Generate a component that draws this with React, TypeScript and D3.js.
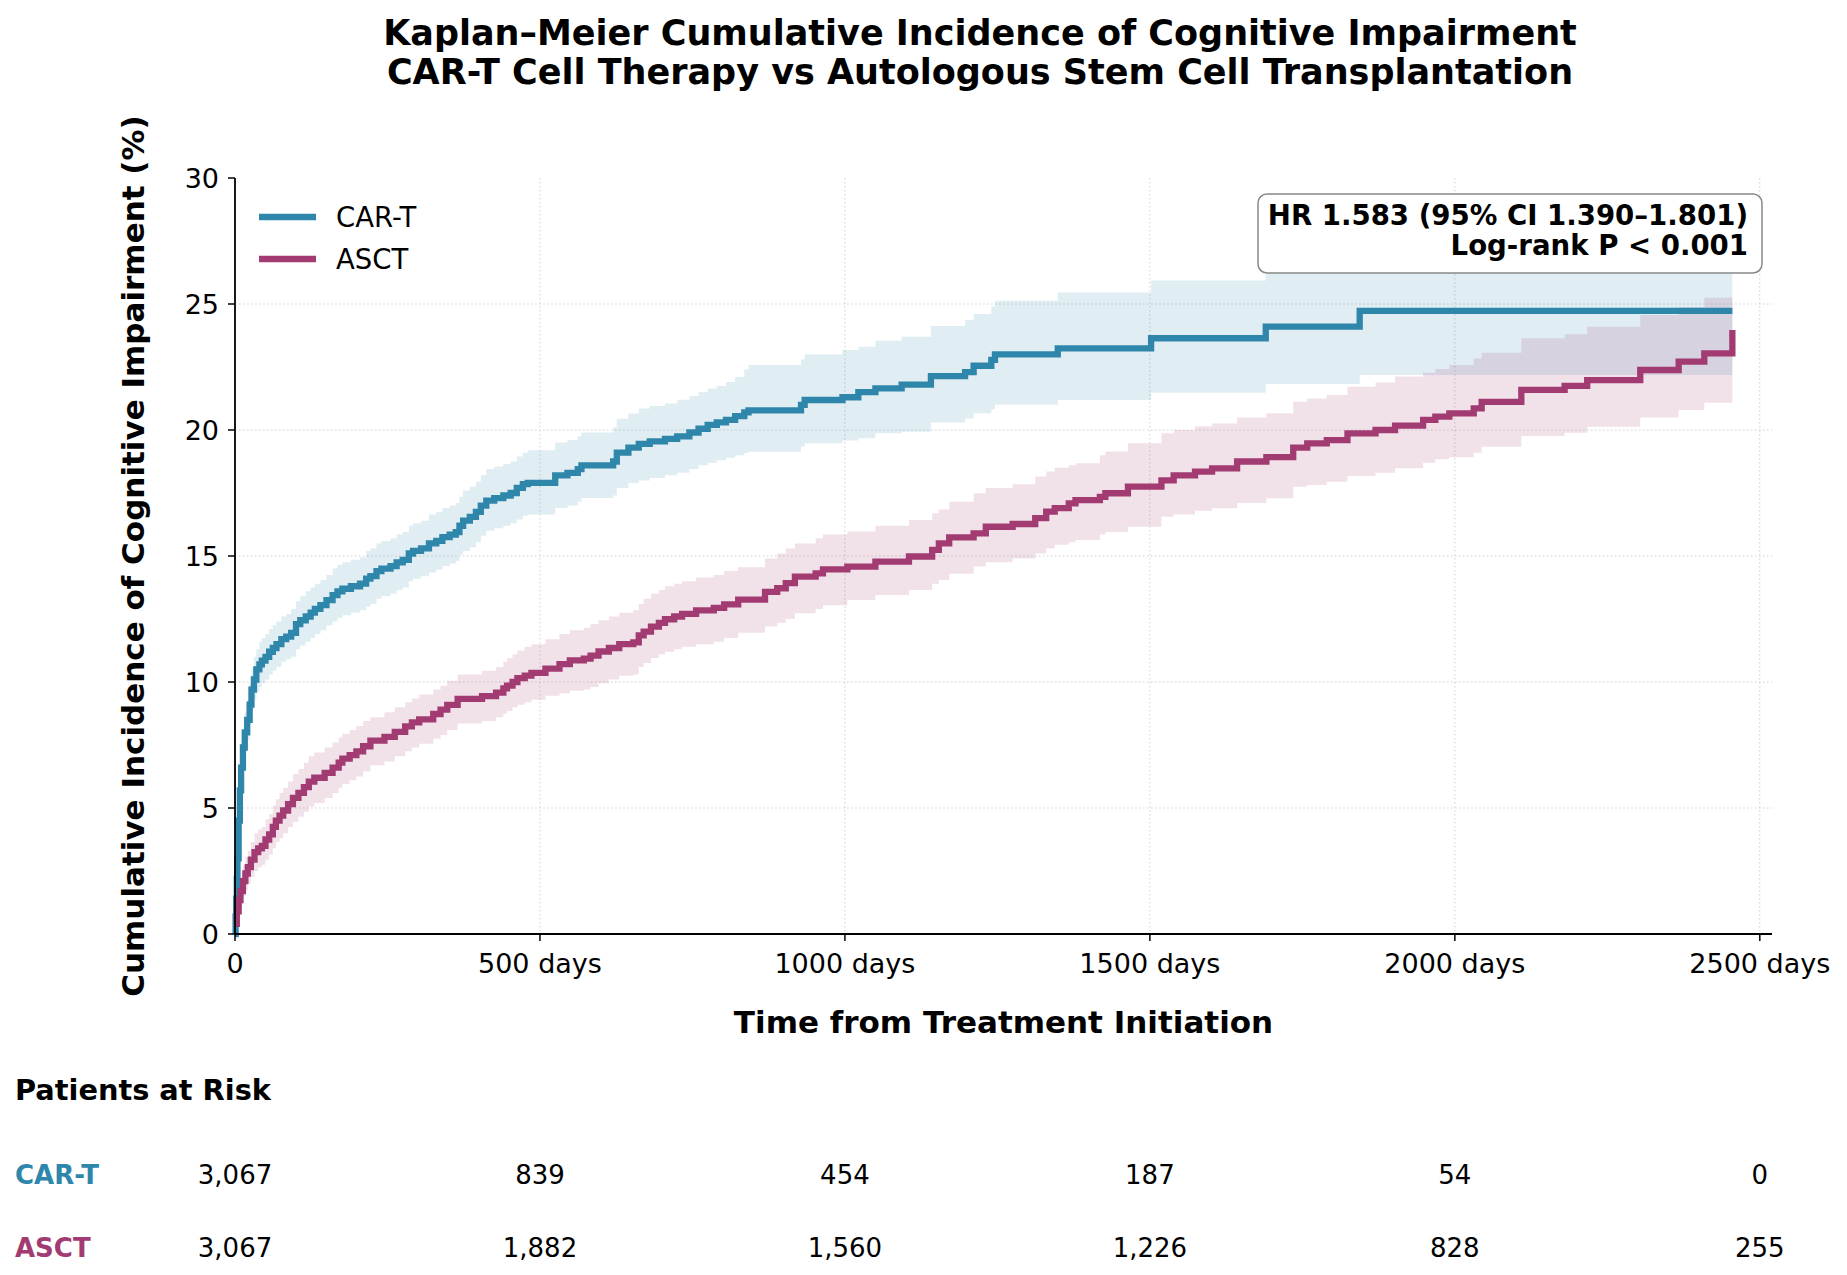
import React from "react";
import * as d3 from "d3";

// ---------- DATA ----------
const xTickValues = [0, 500, 1000, 1500, 2000, 2500];
const xTickLabels = ["0", "500 days", "1000 days", "1500 days", "2000 days", "2500 days"];
const yTickValues = [0, 5, 10, 15, 20, 25, 30];

const seriesNames = ["CAR-T", "ASCT"];
const seriesColors = ["#2E86AB", "#A23B72"];

const riskCarT = ["3,067", "839", "454", "187", "54", "0"];
const riskAsct = ["3,067", "1,882", "1,560", "1,226", "828", "255"];

const annotationLines = ["HR 1.583 (95% CI 1.390\u20131.801)", "Log-rank P < 0.001"];

const carTDays = [0, 1, 2, 3, 4, 6, 8, 10, 13, 16, 20, 24, 27, 31, 35, 40, 44, 50, 56, 62, 68, 76, 84, 92, 100, 107, 116, 124, 131, 140, 150, 160, 168, 176, 190, 205, 215, 222, 232, 240, 255, 265, 275, 285, 292, 305, 318, 330, 340, 352, 362, 368, 374, 385, 395, 403, 412, 425, 440, 452, 462, 472, 480, 525, 545, 562, 568, 620, 626, 645, 662, 680, 705, 725, 745, 760, 775, 790, 805, 820, 835, 842, 928, 934, 996, 1022, 1050, 1093, 1141, 1197, 1211, 1240, 1246, 1349, 1502, 1690, 1844, 2455];
const carTIncidence = [0, 0.7, 1.4, 2.2, 3.0, 4.5, 5.7, 6.6, 7.4, 8.0, 8.5, 9.1, 9.7, 10.1, 10.5, 10.7, 10.85, 11.0, 11.2, 11.35, 11.5, 11.7, 11.8, 11.95, 12.3, 12.45, 12.6, 12.75, 12.9, 13.05, 13.25, 13.45, 13.6, 13.7, 13.8, 13.9, 14.1, 14.2, 14.4, 14.5, 14.6, 14.75, 14.85, 15.1, 15.2, 15.3, 15.5, 15.6, 15.75, 15.85, 15.95, 16.2, 16.4, 16.55, 16.75, 17.0, 17.2, 17.3, 17.4, 17.5, 17.7, 17.85, 17.9, 18.2, 18.3, 18.45, 18.6, 18.75, 19.1, 19.3, 19.45, 19.55, 19.65, 19.75, 19.9, 20.05, 20.2, 20.3, 20.4, 20.55, 20.7, 20.78, 21.0, 21.19, 21.3, 21.5, 21.65, 21.8, 22.14, 22.3, 22.55, 22.78, 23.0, 23.24, 23.64, 24.1, 24.73, 24.73];
const carTLower = [0, 0.4, 1.0, 1.7, 2.5, 3.9, 5.1, 5.9, 6.7, 7.3, 7.7, 8.3, 8.9, 9.3, 9.6, 9.8, 9.95, 10.1, 10.3, 10.45, 10.6, 10.8, 10.9, 11.0, 11.3, 11.45, 11.6, 11.75, 11.9, 12.05, 12.25, 12.4, 12.55, 12.65, 12.75, 12.85, 13.0, 13.1, 13.3, 13.4, 13.5, 13.65, 13.75, 14.0, 14.1, 14.2, 14.35, 14.45, 14.6, 14.7, 14.8, 15.05, 15.2, 15.35, 15.55, 15.8, 16.0, 16.1, 16.2, 16.3, 16.45, 16.6, 16.65, 16.9, 17.0, 17.15, 17.3, 17.4, 17.7, 17.9, 18.0, 18.1, 18.2, 18.3, 18.45, 18.6, 18.7, 18.8, 18.9, 19.0, 19.1, 19.14, 19.35, 19.47, 19.58, 19.67, 19.87, 19.93, 20.3, 20.46, 20.66, 20.82, 21.0, 21.19, 21.48, 21.83, 22.18, 22.18];
const carTUpper = [0, 1.0, 1.8, 2.7, 3.5, 5.1, 6.3, 7.3, 8.1, 8.8, 9.3, 9.9, 10.5, 11.0, 11.3, 11.6, 11.75, 11.9, 12.1, 12.25, 12.4, 12.6, 12.7, 12.9, 13.2, 13.4, 13.6, 13.75, 13.9, 14.05, 14.25, 14.5, 14.65, 14.75, 14.85, 14.95, 15.2, 15.3, 15.5, 15.6, 15.7, 15.85, 15.95, 16.2, 16.3, 16.4, 16.65, 16.75, 16.9, 17.0, 17.1, 17.35, 17.6, 17.75, 17.95, 18.2, 18.45, 18.55, 18.65, 18.75, 18.95, 19.1, 19.2, 19.5, 19.6, 19.75, 19.9, 20.1, 20.45, 20.65, 20.85, 20.95, 21.05, 21.2, 21.35, 21.5, 21.65, 21.75, 21.9, 22.1, 22.4, 22.58, 22.8, 23.0, 23.17, 23.3, 23.54, 23.7, 24.13, 24.37, 24.6, 24.9, 25.13, 25.46, 25.93, 26.4, 27.2, 27.2];

const asctDays = [0, 3, 6, 9, 13, 17, 21, 26, 32, 38, 44, 50, 56, 62, 67, 73, 79, 87, 95, 104, 113, 121, 130, 147, 160, 170, 176, 188, 199, 210, 222, 245, 262, 279, 290, 302, 325, 337, 348, 365, 405, 428, 440, 446, 455, 463, 475, 486, 509, 532, 549, 572, 583, 596, 613, 630, 653, 662, 670, 682, 695, 705, 720, 733, 756, 785, 802, 825, 869, 889, 903, 918, 952, 964, 1004, 1050, 1105, 1143, 1154, 1171, 1211, 1231, 1275, 1312, 1330, 1344, 1367, 1378, 1418, 1427, 1464, 1519, 1539, 1574, 1602, 1643, 1691, 1735, 1758, 1790, 1824, 1870, 1902, 1948, 1968, 1991, 2031, 2044, 2109, 2180, 2217, 2304, 2367, 2409, 2455];
const asctIncidence = [0.4, 0.9, 1.35, 1.7, 2.1, 2.4, 2.65, 2.95, 3.25, 3.4, 3.5, 3.75, 3.95, 4.25, 4.5, 4.7, 4.9, 5.15, 5.4, 5.6, 5.83, 6.05, 6.2, 6.39, 6.6, 6.8, 6.96, 7.1, 7.25, 7.45, 7.67, 7.82, 8.02, 8.24, 8.4, 8.52, 8.73, 8.9, 9.09, 9.33, 9.44, 9.58, 9.75, 9.86, 10.0, 10.15, 10.25, 10.36, 10.53, 10.71, 10.86, 10.93, 11.05, 11.21, 11.35, 11.5, 11.57, 11.85, 12.0, 12.2, 12.35, 12.49, 12.6, 12.7, 12.84, 12.94, 13.08, 13.27, 13.58, 13.72, 13.92, 14.18, 14.31, 14.47, 14.58, 14.78, 14.98, 15.24, 15.5, 15.74, 15.9, 16.16, 16.27, 16.5, 16.76, 16.9, 17.09, 17.22, 17.35, 17.49, 17.75, 18.0, 18.2, 18.35, 18.48, 18.75, 18.92, 19.3, 19.47, 19.6, 19.87, 20.0, 20.17, 20.4, 20.53, 20.66, 20.86, 21.12, 21.59, 21.75, 21.98, 22.38, 22.71, 23.04, 23.97];
const asctLower = [0.15, 0.5, 0.85, 1.15, 1.5, 1.75, 2.0, 2.25, 2.5, 2.65, 2.75, 2.95, 3.15, 3.4, 3.65, 3.8, 4.0, 4.25, 4.45, 4.65, 4.85, 5.05, 5.2, 5.4, 5.6, 5.8, 5.95, 6.1, 6.25, 6.45, 6.7, 6.85, 7.05, 7.25, 7.4, 7.55, 7.75, 7.9, 8.1, 8.35, 8.45, 8.6, 8.75, 8.85, 9.0, 9.1, 9.2, 9.3, 9.45, 9.55, 9.65, 9.7, 9.8, 9.95, 10.1, 10.25, 10.3, 10.6, 10.75, 10.95, 11.1, 11.2, 11.3, 11.4, 11.5, 11.6, 11.75, 11.95, 12.2, 12.35, 12.5, 12.73, 12.9, 13.05, 13.25, 13.45, 13.65, 13.9, 14.05, 14.3, 14.58, 14.75, 14.9, 15.1, 15.3, 15.45, 15.55, 15.63, 15.85, 15.95, 16.16, 16.56, 16.65, 16.8, 16.89, 17.1, 17.29, 17.75, 17.82, 17.95, 18.17, 18.3, 18.48, 18.7, 18.84, 18.92, 19.1, 19.34, 19.76, 19.89, 20.13, 20.5, 20.79, 21.08, 21.08];
const asctUpper = [0.65, 1.3, 1.85, 2.25, 2.7, 3.05, 3.3, 3.65, 4.0, 4.15, 4.25, 4.55, 4.75, 5.1, 5.35, 5.6, 5.8, 6.05, 6.35, 6.55, 6.8, 7.05, 7.2, 7.4, 7.6, 7.8, 7.95, 8.1, 8.25, 8.45, 8.6, 8.8, 9.0, 9.2, 9.35, 9.5, 9.7, 9.85, 10.05, 10.3, 10.45, 10.6, 10.8, 10.95, 11.1, 11.25, 11.4, 11.5, 11.7, 11.9, 12.05, 12.15, 12.3, 12.45, 12.6, 12.75, 12.85, 13.1, 13.3, 13.5, 13.65, 13.8, 13.9, 14.0, 14.15, 14.25, 14.4, 14.55, 14.9, 15.1, 15.3, 15.5, 15.7, 15.85, 15.97, 16.2, 16.43, 16.7, 16.85, 17.15, 17.49, 17.7, 17.85, 18.15, 18.35, 18.5, 18.6, 18.68, 19.0, 19.15, 19.47, 19.87, 20.0, 20.15, 20.26, 20.5, 20.66, 21.12, 21.25, 21.39, 21.72, 21.88, 22.12, 22.27, 22.42, 22.58, 22.84, 23.07, 23.64, 23.8, 24.1, 24.56, 24.87, 25.25, 25.25];

// ---------- LAYOUT ----------
const W = 1847;
const H = 1275;
const M = { left: 235, right: 1772, top: 178, bottom: 934 };
const FONT = "'DejaVu Sans', sans-serif";

type Pt = { t: number; v: number; lo: number; hi: number };

function build(days: number[], v: number[], lo: number[], hi: number[]): Pt[] {
  return days.map((t, i) => ({ t, v: v[i], lo: lo[i], hi: hi[i] }));
}

export default function App() {
  const x = d3.scaleLinear().domain([0, 2520]).range([M.left, M.right]);
  const y = d3.scaleLinear().domain([0, 30]).range([M.bottom, M.top]);

  const series = [
    build(carTDays, carTIncidence, carTLower, carTUpper),
    build(asctDays, asctIncidence, asctLower, asctUpper),
  ];

  const line = d3
    .line<Pt>()
    .x((d) => x(d.t))
    .y((d) => y(d.v))
    .curve(d3.curveStepAfter);
  const area = d3
    .area<Pt>()
    .x((d) => x(d.t))
    .y0((d) => y(d.lo))
    .y1((d) => y(d.hi))
    .curve(d3.curveStepAfter);

  const riskRows = [riskCarT, riskAsct];

  return (
    <div style={{ position: "absolute", left: 0, top: 0, background: "#fff" }}>
      <svg width={W} height={H} viewBox={`0 0 ${W} ${H}`} style={{ display: "block", fontFamily: FONT }}>
        <rect x={0} y={0} width={W} height={H} fill="#fff" />

        {/* Title */}
        <text x={980} y={45} textAnchor="middle" fontSize={35} fontWeight="bold" fill="#000">
          Kaplan–Meier Cumulative Incidence of Cognitive Impairment
        </text>
        <text x={980} y={84} textAnchor="middle" fontSize={35} fontWeight="bold" fill="#000">
          CAR-T Cell Therapy vs Autologous Stem Cell Transplantation
        </text>

        {/* Grid */}
        {yTickValues
          .filter((v) => v > 0 && v < 30)
          .map((v) => (
            <line key={"gy" + v} x1={M.left} x2={M.right} y1={y(v)} y2={y(v)} stroke="#cfcfcf" strokeWidth={1} strokeDasharray="1.5,2.5" />
          ))}
        {xTickValues
          .filter((v) => v > 0)
          .map((v) => (
            <line key={"gx" + v} x1={x(v)} x2={x(v)} y1={M.top} y2={M.bottom} stroke="#cfcfcf" strokeWidth={1} strokeDasharray="1.5,2.5" />
          ))}

        {/* CI bands */}
        {series.map((s, i) => (
          <path key={"band" + i} d={area(s) || ""} fill={seriesColors[i]} fillOpacity={0.15} stroke="none" />
        ))}
        {/* Lines */}
        {series.map((s, i) => (
          <path key={"line" + i} d={line(s) || ""} fill="none" stroke={seriesColors[i]} strokeWidth={6.3} strokeLinejoin="miter" />
        ))}

        {/* Axes */}
        <line x1={M.left} x2={M.left} y1={M.top} y2={M.bottom} stroke="#000" strokeWidth={1.8} />
        <line x1={M.left} x2={M.right} y1={M.bottom} y2={M.bottom} stroke="#000" strokeWidth={1.8} />
        {yTickValues.map((v) => (
          <g key={"yt" + v}>
            <line x1={M.left - 7} x2={M.left} y1={y(v)} y2={y(v)} stroke="#000" strokeWidth={1.5} />
            <text x={M.left - 16} y={y(v) + 10} textAnchor="end" fontSize={27} fill="#000">
              {v}
            </text>
          </g>
        ))}
        {xTickValues.map((v, i) => (
          <g key={"xt" + v}>
            <line x1={x(v)} x2={x(v)} y1={M.bottom} y2={M.bottom + 7} stroke="#000" strokeWidth={1.5} />
            <text x={x(v)} y={973} textAnchor="middle" fontSize={27} fill="#000">
              {xTickLabels[i]}
            </text>
          </g>
        ))}

        {/* Axis labels */}
        <text x={(M.left + M.right) / 2} y={1033} textAnchor="middle" fontSize={31} fontWeight="bold" fill="#000">
          Time from Treatment Initiation
        </text>
        <text
          transform={`translate(144, ${(M.top + M.bottom) / 2}) rotate(-90)`}
          textAnchor="middle"
          fontSize={31}
          fontWeight="bold"
          fill="#000"
        >
          Cumulative Incidence of Cognitive Impairment (%)
        </text>

        {/* Legend */}
        {seriesNames.map((n, i) => (
          <g key={"leg" + i}>
            <line x1={259} x2={316} y1={217 + i * 42} y2={217 + i * 42} stroke={seriesColors[i]} strokeWidth={6.5} />
            <text x={336} y={227 + i * 42} fontSize={27.5} fill="#000">
              {n}
            </text>
          </g>
        ))}

        {/* Annotation box */}
        <rect x={1258} y={194} width={504} height={79} rx={9} ry={9} fill="#fff" stroke="#888" strokeWidth={1.5} />
        {annotationLines.map((t, i) => (
          <text key={"ann" + i} x={1748} y={225 + i * 30} textAnchor="end" fontSize={27.6} fontWeight="bold" fill="#000">
            {t}
          </text>
        ))}

        {/* Risk table */}
        <text x={15} y={1100} fontSize={28.8} fontWeight="bold" fill="#000">
          Patients at Risk
        </text>
        {riskRows.map((row, r) => (
          <g key={"risk" + r}>
            <text x={15} y={1184 + r * 73} fontSize={26} fontWeight="bold" fill={seriesColors[r]}>
              {seriesNames[r]}
            </text>
            {row.map((val, i) => (
              <text key={i} x={x(xTickValues[i])} y={1184 + r * 73} textAnchor="middle" fontSize={26} fill="#000">
                {val}
              </text>
            ))}
          </g>
        ))}
      </svg>
    </div>
  );
}
